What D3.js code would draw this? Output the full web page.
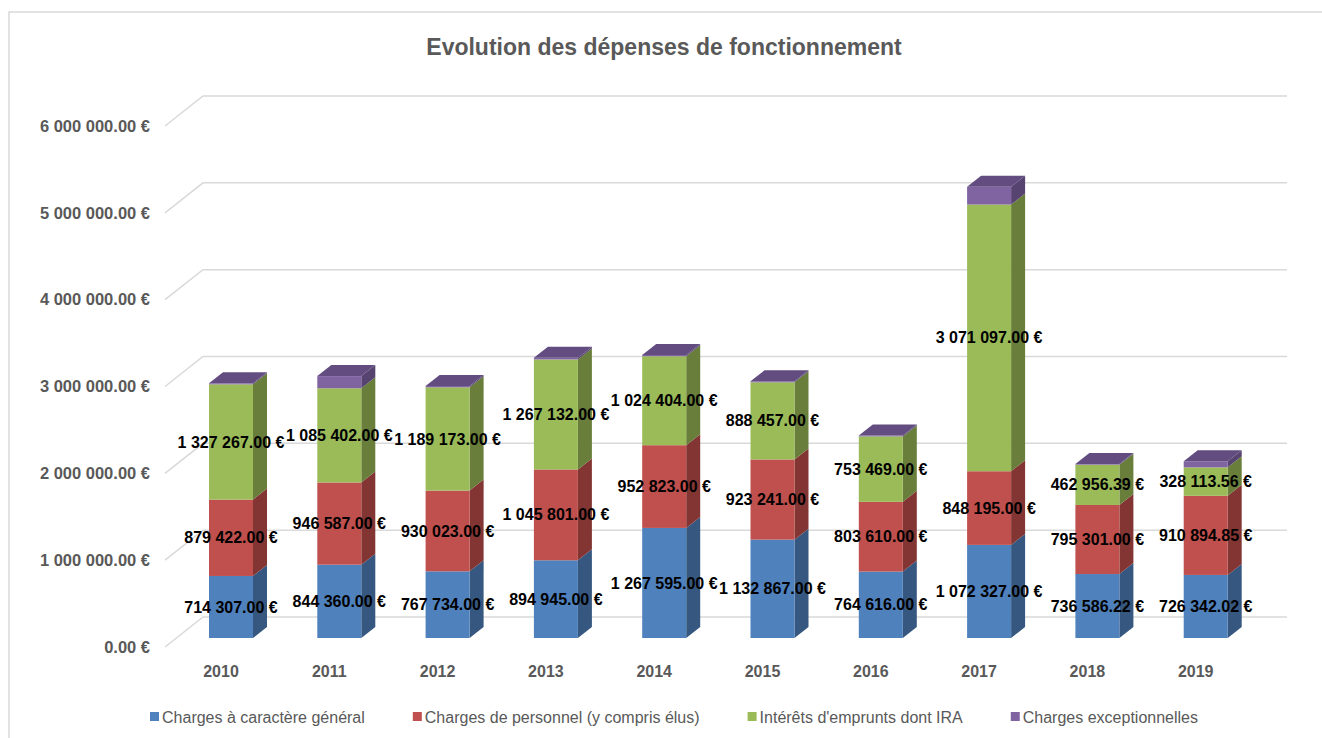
<!DOCTYPE html>
<html><head><meta charset="utf-8">
<script src="https://cdn.jsdelivr.net/npm/d3@7/dist/d3.min.js"></script>
<style>body{margin:0;background:#fff}svg{display:block}</style>
</head><body>
<svg id="chart" width="1322" height="738"></svg>
<script>
// ---- data ----
const years = ["2010","2011","2012","2013","2014","2015","2016","2017","2018","2019"];
const chargesGenerales = [714307, 844360, 767734, 894945, 1267595, 1132867, 764616, 1072327, 736586.22, 726342.02];
const chargesPersonnel = [879422, 946587, 930023, 1045801, 952823, 923241, 803610, 848195, 795301, 910894.85];
const interetsEmprunts = [1327267, 1085402, 1189173, 1267132, 1024404, 888457, 753469, 3071097, 462956.39, 328113.56];
const chargesExceptionnelles = [12000, 140000, 15000, 20000, 15000, 12000, 10000, 205000, 8000, 70000];
const seriesNames = ["Charges à caractère général", "Charges de personnel (y compris élus)", "Intérêts d'emprunts dont IRA", "Charges exceptionnelles"];
const yTicks = [0, 1000000, 2000000, 3000000, 4000000, 5000000, 6000000];
const chartTitle = "Evolution des dépenses de fonctionnement";

// ---- styles ----
const frontColors = ["#4F81BD", "#C0504D", "#9BBB59", "#8064A2"];
const sideColors  = ["#36577F", "#833533", "#687E3A", "#56436F"];
const topColors   = ["#5E8CC6", "#C9625F", "#A8C56E", "#624C80"];
const showLabels  = [true, true, true, false];
const FONT = "'Liberation Sans', Arial, sans-serif";
const GRAY = "#595959";

const svg = d3.select("#chart");
const table = years.map((y, i) => ({
  year: y,
  s0: chargesGenerales[i], s1: chargesPersonnel[i], s2: interetsEmprunts[i], s3: chargesExceptionnelles[i]
}));
const keys = ["s0", "s1", "s2", "s3"];
const stacked = d3.stack().keys(keys)(table);

// geometry
const y = d3.scaleLinear().domain([0, 6000000]).range([638, 117]);
const x = d3.scaleBand().domain(years).range([176.85, 1259.85]).padding(0);
const BW = 44, DX = 14, DY = -11;
const FLOOR_DX = -11, FLOOR_DY = 9;   // floor front edge relative to bar front
const WALL_DX = 38, WALL_DY = -30;    // back wall relative to floor front edge
const gridRight = 1287;

// frame
svg.append("rect").attr("x", 9).attr("y", 12).attr("width", 1400).attr("height", 800)
  .attr("fill", "none").attr("stroke", "#D9D9D9").attr("stroke-width", 1.5);

// title
svg.append("text").attr("x", 664).attr("y", 55).attr("text-anchor", "middle")
  .attr("font-family", FONT).attr("font-weight", "bold").attr("font-size", 23)
  .attr("fill", GRAY).text(chartTitle);

// gridlines
const grid = svg.append("g");
yTicks.forEach(v => {
  const fy = y(v) + FLOOR_DY;
  const fx = 165;
  const bx = fx + WALL_DX, by = fy + WALL_DY;
  grid.append("polyline")
    .attr("points", `${fx},${fy} ${bx},${by} ${gridRight},${by}`)
    .attr("fill", "none").attr("stroke", "#D9D9D9").attr("stroke-width", 1.5);
});

// y-axis tick labels
const fmt = v => d3.format(",.2f")(v).replace(/,/g, " ") + " €";
svg.append("g").selectAll("text").data(yTicks).join("text")
  .attr("x", 150).attr("y", d => y(d) + FLOOR_DY)
  .attr("dy", "0.35em").attr("text-anchor", "end")
  .attr("font-family", FONT).attr("font-weight", "bold").attr("font-size", 16.5)
  .attr("fill", GRAY).text(d => fmt(d));

// category labels
svg.append("g").selectAll("text").data(years).join("text")
  .attr("x", d => x(d) + x.bandwidth() / 2 + FLOOR_DX + 1)
  .attr("y", y(0) + 33).attr("dy", "0.35em").attr("text-anchor", "middle")
  .attr("font-family", FONT).attr("font-weight", "bold").attr("font-size", 16)
  .attr("fill", GRAY).text(d => d);

// bars
const bars = svg.append("g");
years.forEach((yr, i) => {
  const cx = x(yr) + x.bandwidth() / 2;
  const x0 = cx - BW / 2, x1 = cx + BW / 2;
  stacked.forEach((layer, k) => {
    const yb = y(layer[i][0]), yt = y(layer[i][1]);
    bars.append("polygon")
      .attr("points", `${x1},${yb} ${x1 + DX},${yb + DY} ${x1 + DX},${yt + DY} ${x1},${yt}`)
      .attr("fill", sideColors[k]);
    bars.append("rect").attr("x", x0).attr("y", yt).attr("width", BW).attr("height", Math.max(0, yb - yt))
      .attr("fill", frontColors[k]);
  });
  const last = stacked[stacked.length - 1];
  const ytop = y(last[i][1]);
  bars.append("polygon")
    .attr("points", `${x0},${ytop} ${x0 + DX},${ytop + DY} ${x1 + DX},${ytop + DY} ${x1},${ytop}`)
    .attr("fill", topColors[3]);
});

// data labels
const labels = svg.append("g");
stacked.forEach((layer, k) => {
  if (!showLabels[k]) return;
  layer.forEach((d, i) => {
    const cx = x(years[i]) + x.bandwidth() / 2;
    labels.append("text")
      .attr("x", cx).attr("y", (y(d[0]) + y(d[1])) / 2).attr("dy", "0.35em")
      .attr("text-anchor", "middle")
      .attr("font-family", FONT).attr("font-weight", "bold").attr("font-size", 16)
      .attr("fill", "#000").text(fmt(d[1] - d[0]));
  });
});

// legend
const legend = svg.append("g");
const items = seriesNames.map((name, k) => {
  const g = legend.append("g");
  g.append("rect").attr("x", 0).attr("y", -5).attr("width", 9).attr("height", 9).attr("fill", frontColors[k]);
  const t = g.append("text").attr("x", 12).attr("y", 0).attr("dy", "0.35em")
    .attr("font-family", FONT).attr("font-size", 16).attr("fill", GRAY).text(name);
  return { g, w: 12 + t.node().getComputedTextLength() };
});
const gap = 48;
const total = d3.sum(items, d => d.w) + gap * (items.length - 1);
let lx = 674 - total / 2;
items.forEach(it => { it.g.attr("transform", `translate(${lx},717)`); lx += it.w + gap; });
</script>
</body></html>
